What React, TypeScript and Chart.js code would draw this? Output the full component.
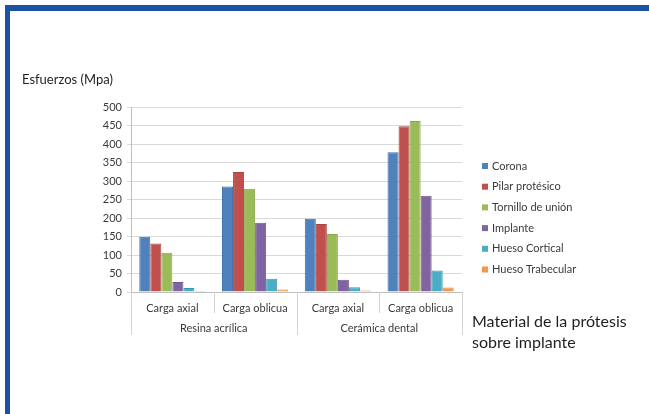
import React, { useEffect, useRef } from "react";
import { Chart, registerables } from "chart.js";

Chart.register(...registerables);

const categories = ["Carga axial", "Carga oblicua", "Carga axial", "Carga oblicua"];
const groups = ["Resina acrílica", "Cerámica dental"];
const seriesNames = ["Corona", "Pilar protésico", "Tornillo de unión", "Implante", "Hueso Cortical", "Hueso Trabecular"];
const corona = [149, 285, 198, 378];
const pilar = [131, 324, 184, 448];
const tornillo = [106, 279, 157, 462];
const implante = [27, 187, 33, 260];
const cortical = [11, 36, 13, 58];
const trabecular = [3, 7, 4, 12];
const yTicks = { min: 0, max: 500, step: 50 };
const yTitle = "Esfuerzos (Mpa)";
const xTitle = ["Material de la prótesis", "sobre implante"];

const fills = ["#4f81bd", "#c0504d", "#9bbb59", "#8064a2", "#4bacc6", "#f79646"];
const edges = ["#3f6ea6", "#a94440", "#86a64a", "#6d548e", "#3b98b1", "#e0843a"];
const FONT = "Lato, 'Open Sans', sans-serif";

const decorPlugin = {
  id: "decor",
  afterDraw(chart: any) {
    const ctx = chart.ctx;
    const xs = chart.scales.x;
    const area = chart.chartArea;
    const n = categories.length;
    const bounds: number[] = [xs.left];
    for (let i = 0; i < n - 1; i++) {
      bounds.push((xs.getPixelForValue(i) + xs.getPixelForValue(i + 1)) / 2);
    }
    bounds.push(xs.right);
    ctx.save();
    ctx.strokeStyle = "#d4d4d4";
    ctx.lineWidth = 1;
    bounds.forEach((b, i) => {
      const long = i % 2 === 0;
      const x = Math.round(b) + 0.5;
      ctx.beginPath();
      ctx.moveTo(x, area.bottom);
      ctx.lineTo(x, area.bottom + (long ? 43 : 21));
      ctx.stroke();
    });
    // group labels
    ctx.fillStyle = "#3a3a3a";
    ctx.font = `11px ${FONT}`;
    ctx.textAlign = "center";
    ctx.textBaseline = "middle";
    groups.forEach((g, i) => {
      const cx = (bounds[i * 2] + bounds[i * 2 + 2]) / 2;
      ctx.fillText(g, cx, area.bottom + 36);
    });
    // y title
    ctx.fillStyle = "#1f1f1f";
    ctx.font = `13px ${FONT}`;
    ctx.textAlign = "left";
    ctx.fillText(yTitle, 22, 80);
    // x title
    ctx.font = `16px ${FONT}`;
    xTitle.forEach((t, i) => ctx.fillText(t, area.right + 10, area.bottom + 30 + i * 21));
    // legend
    ctx.font = `11px ${FONT}`;
    chart.data.datasets.forEach((ds: any, i: number) => {
      const y = 166 + i * 20.7;
      ctx.fillStyle = ds.backgroundColor;
      ctx.fillRect(area.right + 20, y - 3, 6, 6);
      ctx.fillStyle = "#3a3a3a";
      ctx.fillText(ds.label, area.right + 30, y);
    });
    ctx.restore();
  },
};

export default function App() {
  const ref = useRef<HTMLCanvasElement>(null);
  useEffect(() => {
    if (!ref.current) return;
    const values = [corona, pilar, tornillo, implante, cortical, trabecular];
    const chart = new Chart(ref.current, {
      type: "bar",
      data: {
        labels: categories,
        datasets: values.map((v, i) => ({
          label: seriesNames[i],
          data: v,
          backgroundColor: fills[i],
          borderColor: edges[i],
          borderWidth: 1,
          barPercentage: 1,
          categoryPercentage: 0.8,
        })),
      },
      options: {
        responsive: false,
        animation: false,
        devicePixelRatio: 1,
        layout: { padding: { left: 0, top: 107, right: 187, bottom: 92 } },
        plugins: { legend: { display: false }, tooltip: { enabled: false }, title: { display: false } },
        scales: {
          x: {
            grid: { display: false, drawTicks: false },
            border: { display: true, color: "#bfbfbf" },
            ticks: { color: "#3a3a3a", font: { family: FONT, size: 11 }, padding: 10, maxRotation: 0, autoSkip: false },
            afterFit: (s: any) => { s.height = 30; },
          },
          y: {
            min: yTicks.min,
            max: yTicks.max,
            ticks: { stepSize: yTicks.step, color: "#3a3a3a", font: { family: FONT, size: 11 }, padding: 5 },
            grid: { color: "#d9d9d9", tickLength: 4, drawTicks: true },
            border: { display: true, color: "#bfbfbf" },
            afterFit: (s: any) => { s.width = 131; },
          },
        },
      },
      plugins: [decorPlugin],
    });
    return () => chart.destroy();
  }, []);
  return (
    <div style={{ position: "fixed", left: 0, top: 0, width: 649, height: 414, background: "#fff", overflow: "hidden" }}>
      <div style={{ position: "absolute", left: 5, top: 5, width: 644, height: 409, borderTop: "6px solid #1c52a4", borderLeft: "5px solid #1c52a4", boxSizing: "border-box" }} />
      <canvas ref={ref} width={649} height={414} style={{ position: "absolute", left: 0, top: 0 }} />
    </div>
  );
}
